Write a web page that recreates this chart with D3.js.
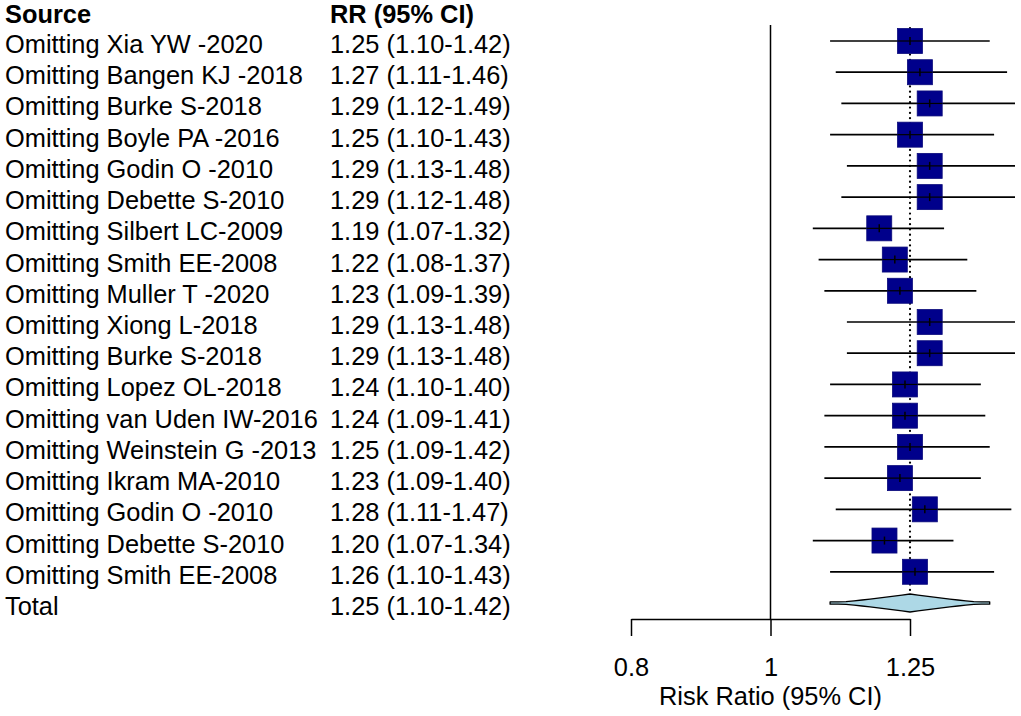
<!DOCTYPE html>
<html>
<head>
<meta charset="utf-8">
<script src="https://cdn.jsdelivr.net/npm/d3@7"></script>
<style>
  body { margin: 0; background: #fff; }
  text { font-family: "Liberation Sans", Arial, sans-serif; fill: #000; }
</style>
</head>
<body>
<div id="chart"></div>
<script>
// Leave-one-out sensitivity analysis values
const sources = [
  "Omitting Xia YW -2020", "Omitting Bangen KJ -2018", "Omitting Burke S-2018",
  "Omitting Boyle PA -2016", "Omitting Godin O -2010", "Omitting Debette S-2010",
  "Omitting Silbert LC-2009", "Omitting Smith EE-2008", "Omitting Muller T -2020",
  "Omitting Xiong L-2018", "Omitting Burke S-2018", "Omitting Lopez OL-2018",
  "Omitting van Uden IW-2016", "Omitting Weinstein G -2013", "Omitting Ikram MA-2010",
  "Omitting Godin O -2010", "Omitting Debette S-2010", "Omitting Smith EE-2008"
];
const rr    = [1.25, 1.27, 1.29, 1.25, 1.29, 1.29, 1.19, 1.22, 1.23, 1.29, 1.29, 1.24, 1.24, 1.25, 1.23, 1.28, 1.20, 1.26];
const lower = [1.10, 1.11, 1.12, 1.10, 1.13, 1.12, 1.07, 1.08, 1.09, 1.13, 1.13, 1.10, 1.09, 1.09, 1.09, 1.11, 1.07, 1.10];
const upper = [1.42, 1.46, 1.49, 1.43, 1.48, 1.48, 1.32, 1.37, 1.39, 1.48, 1.48, 1.40, 1.41, 1.42, 1.40, 1.47, 1.34, 1.43];
const total = { label: "Total", rr: 1.25, lower: 1.10, upper: 1.42 };
const tickValues = [0.8, 1, 1.25];
const tickLabels = ["0.8", "1", "1.25"];

const width = 1021, height = 716;
const fmt = d3.format(".2f");
const fontSize = "25.4px";

const rows = sources.map((s, i) => ({ label: s, rr: rr[i], lower: lower[i], upper: upper[i] }));

const svg = d3.select("#chart").append("svg")
  .attr("width", width)
  .attr("height", height);

// Scales: log x for risk ratio, linear y for row index
const x = d3.scaleLog().domain([0.8, 1.25]).range([631, 910]);
const y = d3.scaleLinear().domain([0, rows.length]).range([41, 603]);

// Column headers
svg.append("text").attr("x", 5).attr("y", 23)
  .style("font-size", fontSize).style("font-weight", "bold").text("Source");
svg.append("text").attr("x", 330).attr("y", 23)
  .style("font-size", fontSize).style("font-weight", "bold").text("RR (95% CI)");

// Text columns
const allRows = rows.concat([total]);
svg.selectAll(".src").data(allRows).join("text")
  .attr("class", "src")
  .attr("x", 5)
  .attr("y", (d, i) => y(i) + 12)
  .style("font-size", fontSize)
  .text(d => d.label);

svg.selectAll(".rr").data(allRows).join("text")
  .attr("class", "rr")
  .attr("x", 330)
  .attr("y", (d, i) => y(i) + 12)
  .style("font-size", fontSize)
  .text(d => `${fmt(d.rr)} (${fmt(d.lower)}-${fmt(d.upper)})`);

// Clip region for the plot (CI lines are cut at the right edge)
svg.append("clipPath").attr("id", "plotClip")
  .append("rect").attr("x", 600).attr("y", 0).attr("width", 415).attr("height", height);

const plot = svg.append("g").attr("clip-path", "url(#plotClip)");

// Null line at RR = 1
svg.append("line")
  .attr("x1", x(1)).attr("x2", x(1))
  .attr("y1", 25).attr("y2", 619)
  .attr("stroke", "#000").attr("stroke-width", 1.5);

// Dotted line at pooled estimate
plot.append("line")
  .attr("x1", x(total.rr)).attr("x2", x(total.rr))
  .attr("y1", 28).attr("y2", 592)
  .attr("stroke", "#000").attr("stroke-width", 2.2)
  .attr("stroke-linecap", "round")
  .attr("stroke-dasharray", "0.1,5.2");

// Confidence interval lines
plot.selectAll(".ci").data(rows).join("line")
  .attr("class", "ci")
  .attr("x1", d => x(d.lower)).attr("x2", d => x(d.upper))
  .attr("y1", (d, i) => y(i)).attr("y2", (d, i) => y(i))
  .attr("stroke", "#000").attr("stroke-width", 1.7);

// Squares
const box = 25;
plot.selectAll(".box").data(rows).join("rect")
  .attr("class", "box")
  .attr("x", d => x(d.rr) - box / 2)
  .attr("y", (d, i) => y(i) - box / 2)
  .attr("width", box).attr("height", box)
  .attr("fill", "#00008B")
  .attr("stroke", "#0a0a7a").attr("stroke-width", 0.8);

// CI line through square + small tick at estimate
plot.selectAll(".ci2").data(rows).join("line")
  .attr("class", "ci2")
  .attr("x1", d => x(d.rr) - box / 2).attr("x2", d => x(d.rr) + box / 2)
  .attr("y1", (d, i) => y(i)).attr("y2", (d, i) => y(i))
  .attr("stroke", "#000").attr("stroke-width", 1.2);

plot.selectAll(".est").data(rows).join("line")
  .attr("class", "est")
  .attr("x1", d => x(d.rr)).attr("x2", d => x(d.rr))
  .attr("y1", (d, i) => y(i) - 4).attr("y2", (d, i) => y(i) + 4)
  .attr("stroke", "#000").attr("stroke-width", 1.5);

// Pooled estimate: spindle-shaped diamond (narrow tips, full height near centre)
const ty = y(rows.length);
const xl = x(total.lower), xc = x(total.rr), xr = x(total.upper);
const steps = d3.range(0, 1.0001, 0.1);
const halfH = u => Math.max(1.2, 9 * Math.pow(1 - u, 1.2));
const upperEdge = steps.map(u => [xc - u * (xc - xl), ty - halfH(u)]).reverse()
  .concat(steps.slice(1).map(u => [xc + u * (xr - xc), ty - halfH(u)]));
const lowerEdge = steps.map(u => [xc + u * (xr - xc), ty + halfH(u)]).reverse()
  .concat(steps.slice(1).map(u => [xc - u * (xc - xl), ty + halfH(u)]));
plot.append("polygon")
  .attr("points", upperEdge.concat([[xr, ty]], lowerEdge, [[xl, ty]]).map(p => p.join(",")).join(" "))
  .attr("fill", "#ADD8E6")
  .attr("stroke", "#000").attr("stroke-width", 1.3)
  .attr("stroke-linejoin", "round");

// Axis
const axis = d3.axisBottom(x)
  .tickValues(tickValues)
  .tickFormat((d, i) => tickLabels[i])
  .tickSize(17)
  .tickSizeOuter(0)
  .tickPadding(22);

const axisG = svg.append("g")
  .attr("transform", "translate(0,619)")
  .call(axis);
axisG.select(".domain").attr("stroke", "#000").attr("stroke-width", 1.5);
axisG.selectAll(".tick line").attr("stroke", "#000").attr("stroke-width", 1.5);
axisG.selectAll(".tick text")
  .style("font-size", fontSize)
  .style("font-family", "'Liberation Sans', Arial, sans-serif")
  .attr("fill", "#000");

svg.append("text")
  .attr("x", x(1)).attr("y", 705)
  .attr("text-anchor", "middle")
  .style("font-size", fontSize)
  .text("Risk Ratio (95% CI)");
</script>
</body>
</html>
